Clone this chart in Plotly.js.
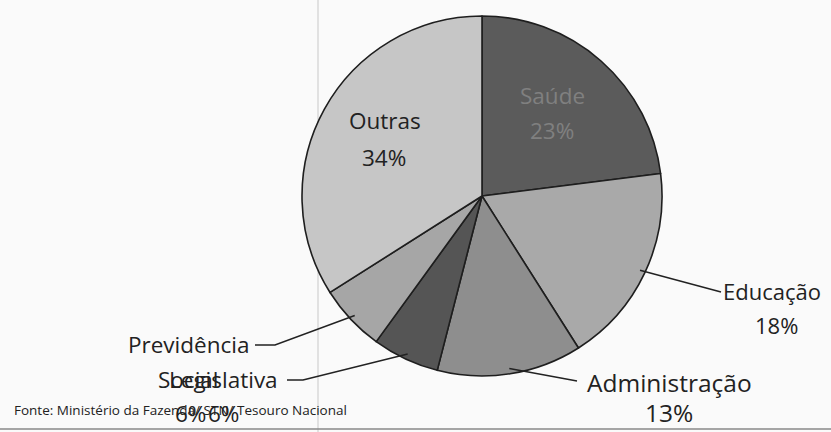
<!DOCTYPE html>
<html>
<head>
<meta charset="utf-8">
<script src="https://cdn.plot.ly/plotly-3.0.1.min.js"></script>
<style>html,body{margin:0;padding:0;background:#fafafa;}#chart{width:831px;height:432px;}</style>
</head>
<body>
<div id="chart"></div>
<script>
// ---- data ----
const categories = ['Saúde', 'Educação', 'Administração', 'Legislativa', 'Previdência Social', 'Outras'];
const values = [23, 18, 13, 6, 6, 34];
const pctLabels = ['23%', '18%', '13%', '6%', '6%', '34%'];
const sliceColors = ['#5b5b5b', '#a9a9a9', '#8e8e8e', '#555555', '#a6a6a6', '#c6c6c6'];
const source = 'Fonte: Ministério da Fazenda/ STN/ Tesouro Nacional';

// ---- layout geometry (pixels) ----
const W = 831, H = 432;
const cx = 482, cy = 196, R = 180;
const px = x => x / W;
const py = y => 1 - y / H;

// label placement per category
const labelPos = {
  'Saúde':              {name: [552, 95],  pct: [552, 131], color: '#808080'},
  'Educação':           {name: [772, 291], pct: [776, 325], size: 22, lead: [[721, 292]]},
  'Administração':      {name: [669, 382], pct: [669, 412], size: 24.5, lead: [[577, 381]]},
  'Legislativa':        {name: [224, 379], pct: [224, 413], lead: [[287, 380], [303, 380]]},
  'Previdência Social': {name: [188, 344], name2: [188, 379], pct: [190, 413], right: 251, lead: [[255, 345], [275, 345]]},
  'Outras':             {name: [385, 121], pct: [384, 157]}
};

const total = values.reduce((a, b) => a + b, 0);
const annotations = [];
const shapes = [];
const font = {family: 'Open Sans, sans-serif', size: 22.5, color: '#222'};
let cum = 0;
categories.forEach((cat, i) => {
  const mid = (cum + values[i] / 2) / total * 2 * Math.PI;
  cum += values[i];
  const p = labelPos[cat];
  const f = Object.assign({}, font);
  if (p.color) f.color = p.color;
  if (p.size) f.size = p.size;
  if (cat === 'Previdência Social') {
    const parts = cat.split(' ');
    annotations.push({x: px(p.right), y: py(p.name[1]), xref: 'paper', yref: 'paper', text: parts[0], showarrow: false, xanchor: 'right', yanchor: 'middle', font: f});
    annotations.push({x: px(p.name2[0]), y: py(p.name2[1]), xref: 'paper', yref: 'paper', text: parts[1], showarrow: false, xanchor: 'center', yanchor: 'middle', font: f});
  } else {
    annotations.push({x: px(p.name[0]), y: py(p.name[1]), xref: 'paper', yref: 'paper', text: cat, showarrow: false, xanchor: 'center', yanchor: 'middle', font: f});
  }
  annotations.push({x: px(p.pct[0]), y: py(p.pct[1]), xref: 'paper', yref: 'paper', text: pctLabels[i], showarrow: false, xanchor: 'center', yanchor: 'middle', font: f});
  if (p.lead) {
    const ex = cx + R * 0.97 * Math.sin(mid);
    const ey = cy - R * 0.97 * Math.cos(mid);
    let d = 'M ' + px(p.lead[0][0]) + ' ' + py(p.lead[0][1]);
    p.lead.slice(1).forEach(pt => { d += ' L ' + px(pt[0]) + ' ' + py(pt[1]); });
    d += ' L ' + px(ex) + ' ' + py(ey);
    shapes.push({type: 'path', xref: 'paper', yref: 'paper', path: d, line: {color: '#222', width: 1.5}});
  }
});

annotations.push({x: px(12), y: py(410), xref: 'paper', yref: 'paper', text: source, showarrow: false, xanchor: 'left', yanchor: 'middle', font: {family: 'Open Sans, sans-serif', size: 13.5, color: '#222'}});

// scan artefacts: faint vertical line and bottom border
shapes.push({type: 'line', xref: 'paper', yref: 'paper', x0: px(318), x1: px(318), y0: 0, y1: 1, line: {color: '#c8c8c8', width: 1}, layer: 'below'});
shapes.push({type: 'line', xref: 'paper', yref: 'paper', x0: 0, x1: 1, y0: py(429), y1: py(429), line: {color: '#888', width: 1.5}});

const trace = {
  type: 'pie',
  labels: categories,
  values: values,
  sort: false,
  direction: 'clockwise',
  rotation: 0,
  textinfo: 'none',
  hoverinfo: 'none',
  marker: {colors: sliceColors, line: {color: '#1e1e1e', width: 1.6}},
  domain: {x: [px(cx - R), px(cx + R)], y: [py(cy + R), py(cy - R)]}
};

Plotly.newPlot('chart', [trace], {
  width: W, height: H,
  margin: {l: 0, r: 0, t: 0, b: 0},
  paper_bgcolor: '#fafafa',
  showlegend: false,
  annotations: annotations,
  shapes: shapes
}, {displayModeBar: false, staticPlot: true});
</script>
</body>
</html>
